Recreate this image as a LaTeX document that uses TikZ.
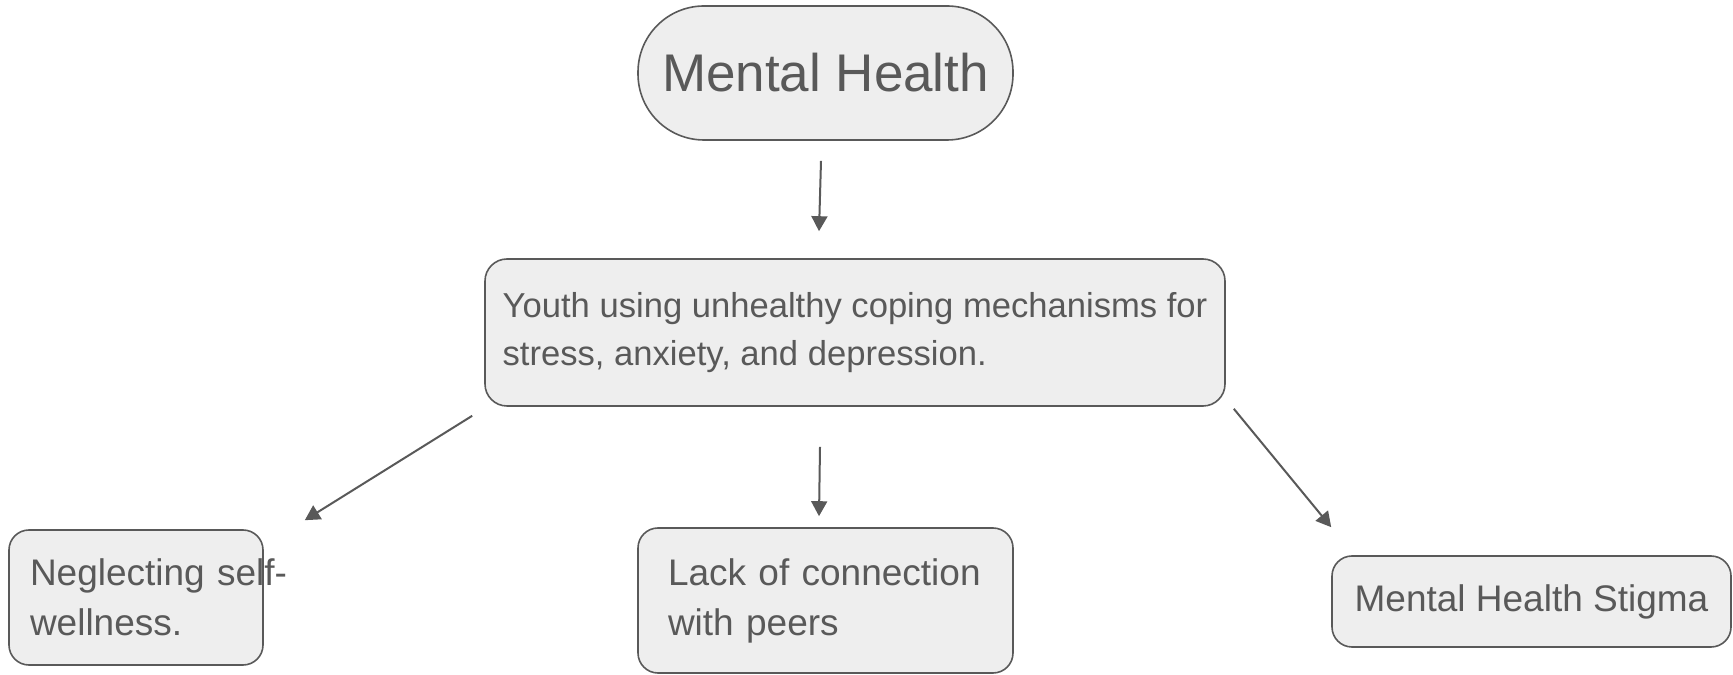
\documentclass[tikz,border=0pt]{standalone}
\usepackage{fontspec}
\setmainfont{Liberation Sans}
\usepackage{tikz}
\usetikzlibrary{positioning, arrows.meta}
\definecolor{ink}{HTML}{595959}
\definecolor{boxfill}{HTML}{EEEEEE}

\begin{document}
\begin{tikzpicture}[
  x=0.5pt, y=0.5pt,
  >={Triangle[length=7.5pt, width=8pt]},
  every node/.style={text=ink},
  card/.style={draw=ink, fill=boxfill, line width=0.8pt, rounded corners=10pt, inner sep=0pt, align=left},
  link/.style={->, draw=ink, line width=1pt}
]
\useasboundingbox (0,0) rectangle (1733,674);

% Topic
\node[card, rounded corners=33pt, align=center, minimum width=187.5pt, minimum height=67pt,
  font=\fontsize{26.5}{32}\selectfont] (topic) at (825.5, 601) {Mental Health};

% Behaviour
\node[card, rounded corners=11pt, minimum width=370pt, minimum height=73.5pt,
  font=\fontsize{17.3}{23.7}\selectfont] (coping) at (855, 341.5)
  {Youth using unhealthy coping mechanisms for\\stress, anxiety, and depression.};

% Effects
\node[card, text width=106pt, inner xsep=10.5pt, minimum height=67.5pt,
  font=\fontsize{18.5}{25}\selectfont] (selfcare) at (136, 76.5)
  {\mbox{Neglecting self-}\\wellness.};
\node[card, text width=157.5pt, inner xsep=15pt, minimum height=72.5pt,
  font=\fontsize{18.5}{25}\selectfont] (peers) at (825.5, 73.5)
  {Lack of connection\\with peers};
\node[card, align=center, minimum width=199.5pt, minimum height=45.5pt,
  font=\fontsize{18.5}{25}\selectfont] (stigma) at (1531.5, 72.5) {Mental Health Stigma};

% Arrows
\draw[link] ([shift={(-4.5,-20)}]topic.south) -- ([shift={(-36,27)}]coping.north);
\draw[link] ([shift={(-12,-9)}]coping.south west) -- ([shift={(41,9)}]selfcare.north east);
\draw[link] ([shift={(-35,-40)}]coping.south) -- ([shift={(-6.5,11)}]peers.north);
\draw[link] ([shift={(8,-2)}]coping.south east) -- ([shift={(0,28)}]stigma.north west);

\end{tikzpicture}
\end{document}
